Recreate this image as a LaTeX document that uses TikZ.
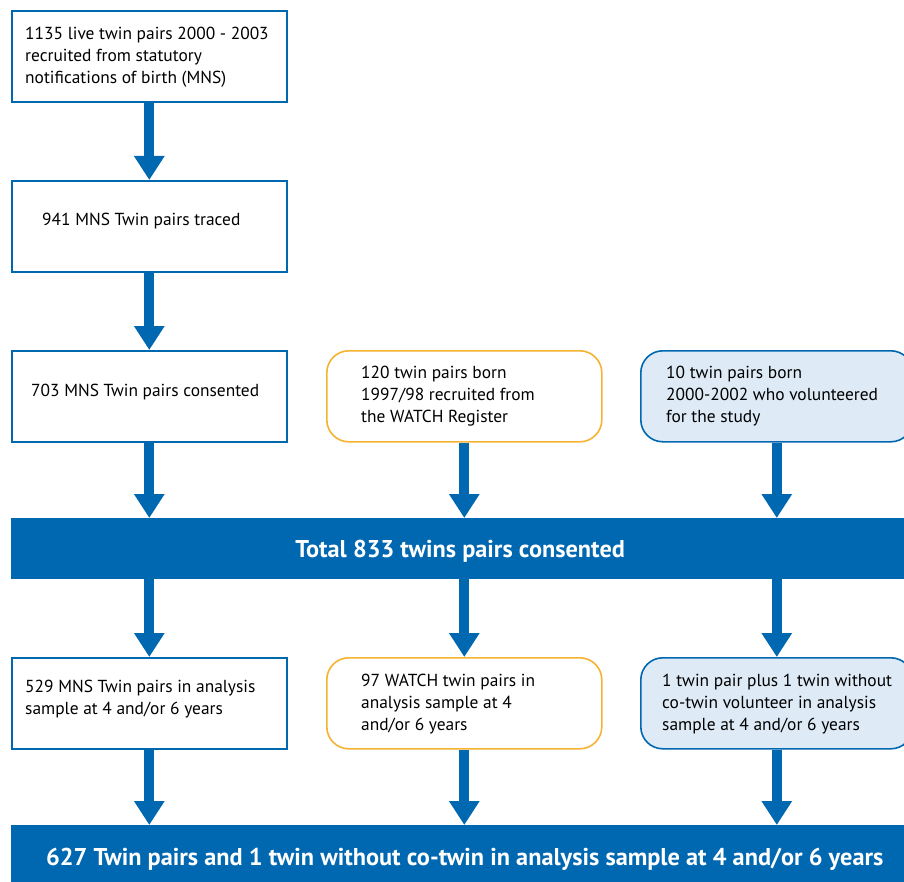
\documentclass[tikz,border=0pt]{standalone}
\usepackage{fontspec}
\setmainfont{PT Sans}
\usetikzlibrary{arrows.meta}
\definecolor{myblue}{HTML}{0067B1}
\definecolor{myorange}{HTML}{F6B331}
\definecolor{mylight}{HTML}{DEEBF7}
\begin{document}
\begin{tikzpicture}[x=1pt,y=-1pt,
 box/.style={draw=myblue, line width=1.6pt, fill=white, minimum width=275pt, minimum height=91pt, inner sep=0pt, anchor=north west},
 rbox/.style={box, rounded corners=22pt, draw=myorange},
 vbox/.style={box, rounded corners=22pt, fill=mylight, minimum width=272pt},
 bar/.style={fill=myblue, inner sep=0pt, anchor=north west, text=white, text depth=0pt, text height=17pt, font=\fontsize{24.3}{28}\selectfont\bfseries},
 txt/.style={anchor=west, align=left, inner sep=0pt, font=\fontsize{17.4}{22}\selectfont},
 arr/.style={draw=myblue, line width=10pt, -{Triangle[width=29pt,length=24pt]}}
]
\useasboundingbox (0,0) rectangle (904,882);
\clip (0,0) rectangle (904,882);
% row 1
\node[box] (b1) at (11,10) {};
\node[txt] (b1t) at (25,57) {1135 live twin pairs 2000 - 2003\\recruited from statutory\\notifications of birth (MNS)};
\node[box] (b2) at (11,180) {};
\node[txt] (b2t) at (42,221) {941 MNS Twin pairs traced};
\node[box] (b3) at (11,350) {};
\node[txt] (b3t) at (31,392) {703 MNS Twin pairs consented};
\node[rbox] (w1) at (326,350) {};
\node[txt] (w1t) at (361,396) {120 twin pairs born\\1997/98 recruited from\\the WATCH Register};
\node[vbox] (v1) at (640,350) {};
\node[txt] (v1t) at (666,396) {10 twin pairs born\\2000-2002 who volunteered\\for the study};
% total bar
\node[bar, minimum width=898pt, minimum height=61pt] (total) at (11,518) {Total 833 twins pairs consented};
% row 2
\node[box] (b4) at (11,657) {};
\node[txt] (b4t) at (25,699) {529 MNS Twin pairs in analysis\\sample at 4 and/or 6 years};
\node[rbox] (w2) at (326,657) {};
\node[txt] (w2t) at (361,704) {97 WATCH twin pairs in\\analysis sample at 4\\and/or 6 years};
\node[vbox] (v2) at (640,657) {};
\node[txt] (v2t) at (662,704) {1 twin pair plus 1 twin without\\co-twin volunteer in analysis\\sample at 4 and/or 6 years};
% final bar
\node[bar, minimum width=907pt, minimum height=64pt] (final) at (11,825) {627 Twin pairs and 1 twin without co-twin in analysis sample at 4 and/or 6 years};
% arrows
\draw[arr] (b1.south) -- (b2.north);
\draw[arr] (b2.south) -- (b3.north);
\draw[arr] (b3.south) -- (b3.south |- total.north);
\draw[arr] (w1.south) -- (w1.south |- total.north);
\draw[arr] (v1.south) -- (v1.south |- total.north);
\draw[arr] (b3.south |- total.south) -- (b4.north);
\draw[arr] (w1.south |- total.south) -- (w2.north);
\draw[arr] (v1.south |- total.south) -- (v2.north);
\draw[arr] (b4.south) -- (b4.south |- final.north);
\draw[arr] (w2.south) -- (w2.south |- final.north);
\draw[arr] (v2.south) -- (v2.south |- final.north);
\end{tikzpicture}
\end{document}
